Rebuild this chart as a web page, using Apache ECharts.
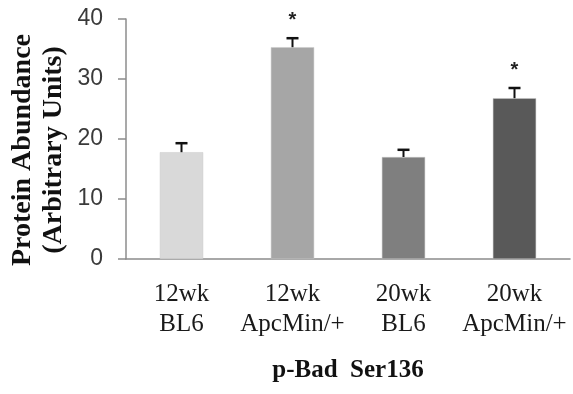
<!DOCTYPE html>
<html><head><meta charset="utf-8">
<script src="https://cdn.jsdelivr.net/npm/echarts@6/dist/echarts.min.js"></script>
<style>html,body{margin:0;padding:0;background:#fff}#c{width:573px;height:394px}</style>
</head><body><div id="c"></div>
<script>
var categories = ['12wk\nBL6', '12wk\nApcMin/+', '20wk\nBL6', '20wk\nApcMin/+'];
var values = [17.8, 35.3, 17.0, 26.8];
var errors = [1.5, 1.5, 1.2, 1.7];
var significant = [false, true, false, true];
var barColors = ['#d9d9d9', '#a6a6a6', '#7f7f7f', '#595959'];
var yTicks = [0, 10, 20, 30, 40];
var yTitle = 'Protein Abundance\n(Arbitrary Units)';
var xTitle = 'p-Bad  Ser136';

var chart = echarts.init(document.getElementById('c'), null, {renderer: 'canvas'});
var serif = '"Liberation Serif", "DejaVu Serif", serif';
chart.setOption({
  animation: false,
  grid: {left: 126, right: 3, top: 19, bottom: 135, containLabel: false, outerBoundsMode: 'none'},
  graphic: [{
    type: 'text', x: 38, y: 150, rotation: Math.PI / 2,
    style: {text: yTitle, font: 'bold 28px ' + serif, fill: '#111', textAlign: 'center', textVerticalAlign: 'middle', lineHeight: 31}
  }],
  xAxis: {
    type: 'category', data: categories,
    axisLine: {lineStyle: {color: '#8c8c8c', width: 1.5}},
    axisTick: {show: false},
    axisLabel: {interval: 0, hideOverlap: false, fontFamily: serif, fontSize: 25, color: '#1a1a1a', lineHeight: 30, margin: 20},
    name: xTitle, nameLocation: 'middle', nameGap: 99,
    nameTextStyle: {fontFamily: serif, fontSize: 25, fontWeight: 'bold', color: '#111'}
  },
  yAxis: {
    type: 'value', min: yTicks[0], max: yTicks[yTicks.length - 1], interval: 10,
    splitLine: {show: false},
    axisLine: {show: true, lineStyle: {color: '#8c8c8c', width: 1.5}},
    axisTick: {show: true, length: 8, lineStyle: {color: '#8c8c8c', width: 1.5}},
    axisLabel: {fontFamily: '"Liberation Sans", Arial, sans-serif', fontSize: 23, color: '#3a3a3a', margin: 23}
  },
  series: [{
    type: 'bar', barWidth: '39%',
    data: values.map(function (v, i) {
      return {value: v, itemStyle: {color: barColors[i], borderColor: '#c8c8c8', borderWidth: 0.5}};
    })
  }, {
    type: 'custom',
    data: values.map(function (v, i) { return [i, v, errors[i], significant[i] ? 1 : 0]; }),
    z: 10,
    renderItem: function (params, api) {
      var x = api.value(0), v = api.value(1), e = api.value(2), sig = api.value(3);
      var top = api.coord([x, v + e]);
      var base = api.coord([x, v]);
      var children = [
        {type: 'line', shape: {x1: top[0], y1: top[1], x2: base[0], y2: base[1]}, style: {stroke: '#111', lineWidth: 2}},
        {type: 'line', shape: {x1: top[0] - 6, y1: top[1], x2: top[0] + 6, y2: top[1]}, style: {stroke: '#111', lineWidth: 2.5}}
      ];
      if (sig) {
        children.push({type: 'text', x: top[0], y: top[1] - 18,
          style: {text: '*', fill: '#222', font: 'bold 20px "Liberation Sans", sans-serif', textAlign: 'center', textVerticalAlign: 'middle'}});
      }
      return {type: 'group', children: children};
    }
  }]
});
</script></body></html>
